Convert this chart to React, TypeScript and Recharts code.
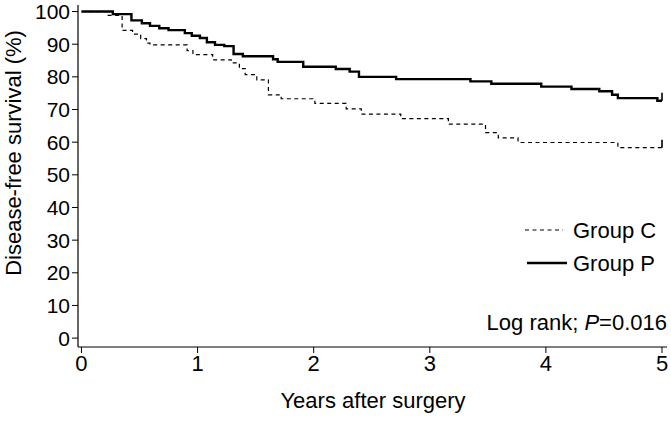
import React from 'react';
import { LineChart, Line, XAxis, YAxis, Legend, Customized } from 'recharts';

const FONT = '"Liberation Sans", Arial, Helvetica, sans-serif';

// Kaplan-Meier steps (years, survival %)
const groupPTimes = [0, 0.27, 0.43, 0.52, 0.59, 0.67, 0.75, 0.89, 0.95, 1.02, 1.08, 1.15, 1.23, 1.31, 1.39, 1.65, 1.69, 1.91, 2.19, 2.31, 2.39, 2.71, 3.35, 3.53, 3.96, 4.22, 4.46, 4.57, 4.62, 4.96, 5.0];
const groupPSurvival = [100, 99.2, 97.3, 96.4, 95.6, 94.9, 94.3, 93.4, 92.6, 91.9, 90.6, 89.8, 89.4, 87.0, 86.3, 85.4, 84.6, 83.1, 82.4, 81.6, 80.0, 79.3, 78.6, 77.9, 77.0, 76.3, 75.6, 74.5, 73.5, 72.7, 72.7];

const groupCTimes = [0, 0.23, 0.35, 0.44, 0.51, 0.56, 0.59, 0.91, 0.96, 1.13, 1.29, 1.36, 1.41, 1.51, 1.61, 1.72, 2.01, 2.28, 2.41, 2.75, 3.16, 3.48, 3.59, 3.76, 4.62, 5.0];
const groupCSurvival = [100, 98.8, 94.2, 93.1, 91.7, 90.3, 89.8, 88.0, 86.8, 85.2, 84.3, 82.5, 80.7, 79.1, 74.5, 73.3, 71.9, 70.2, 68.6, 67.2, 65.5, 62.9, 61.3, 59.9, 58.3, 58.3];

const xTicks = [0, 1, 2, 3, 4, 5];
const yTicks = [0, 10, 20, 30, 40, 50, 60, 70, 80, 90, 100];

const seriesNames = ['Group C', 'Group P'];
const xTitle = 'Years after surgery';
const yTitle = 'Disease-free survival (%)';
const testLabel = 'Log rank; ';
const testP = 'P';
const testValue = '=0.016';

const groupPData = groupPTimes.map((t, i) => ({ t, s: groupPSurvival[i] }));
const groupCData = groupCTimes.map((t, i) => ({ t, s: groupCSurvival[i] }));

const censorDot = (len: number) => (props: any) => {
  const { cx, cy, index } = props;
  if (index !== len - 1) return <g key={`d${index}`} />;
  return <line key={`d${index}`} x1={cx} y1={cy} x2={cx} y2={cy - 8} stroke="#000" strokeWidth={1.6} />;
};

const renderLegend = () => (
  <svg width={150} height={70} style={{ overflow: 'visible' }}>
    <line x1={5} y1={12} x2={43} y2={12} stroke="#000" strokeWidth={1.2} strokeDasharray="4 3.5" />
    <text x={53} y={20} fontSize={22} fontFamily={FONT} fill="#000">{seriesNames[0]}</text>
    <line x1={7} y1={45} x2={47} y2={45} stroke="#000" strokeWidth={2.6} />
    <text x={53} y={53} fontSize={22} fontFamily={FONT} fill="#000">{seriesNames[1]}</text>
  </svg>
);

const Annotations = () => (
  <g fontFamily={FONT} fill="#000">
    <text x={373} y={408} fontSize={22} textAnchor="middle">{xTitle}</text>
    <text x={21} y={153} fontSize={22} textAnchor="middle" transform="rotate(-90 21 153)">{yTitle}</text>
    <text x={667} y={330} fontSize={22} textAnchor="end">
      {testLabel}
      <tspan fontStyle="italic">{testP}</tspan>
      {testValue}
    </text>
  </g>
);

export default function App() {
  return (
    <div style={{ position: 'absolute', left: 0, top: 0, background: '#fff' }}>
      <LineChart width={671} height={439} margin={{ top: 5, right: 4, bottom: 0, left: 0 }}>
        <XAxis
          dataKey="t"
          type="number"
          domain={[-0.03, 5.043]}
          ticks={xTicks}
          interval={0}
          allowDataOverflow
          height={92}
          tickSize={6}
          axisLine={{ stroke: '#000', strokeWidth: 1.2 }}
          tickLine={{ stroke: '#000' }}
          tick={{ fontSize: 22, fontFamily: FONT, fill: '#000' }}
          tickMargin={2}
        />
        <YAxis
          type="number"
          domain={[-2.72, 102]}
          ticks={yTicks}
          interval={0}
          allowDataOverflow
          width={78}
          tickSize={6}
          axisLine={{ stroke: '#000', strokeWidth: 1.2 }}
          tickLine={{ stroke: '#000' }}
          tick={{ fontSize: 21, fontFamily: FONT, fill: '#000' }}
          tickMargin={2}
        />
        <Line
          data={groupCData}
          dataKey="s"
          name={seriesNames[0]}
          type="stepAfter"
          stroke="#000"
          strokeWidth={1.2}
          strokeDasharray="4 3.5"
          dot={censorDot(groupCData.length)}
          activeDot={false}
          isAnimationActive={false}
        />
        <Line
          data={groupPData}
          dataKey="s"
          name={seriesNames[1]}
          type="stepAfter"
          stroke="#000"
          strokeWidth={2.4}
          dot={censorDot(groupPData.length)}
          activeDot={false}
          isAnimationActive={false}
        />
        <Legend
          layout="vertical"
          align="center"
          verticalAlign="middle"
          content={renderLegend}
          wrapperStyle={{ left: 520, top: 218, width: 150, height: 70 }}
        />
        <Customized component={Annotations} />
      </LineChart>
    </div>
  );
}
